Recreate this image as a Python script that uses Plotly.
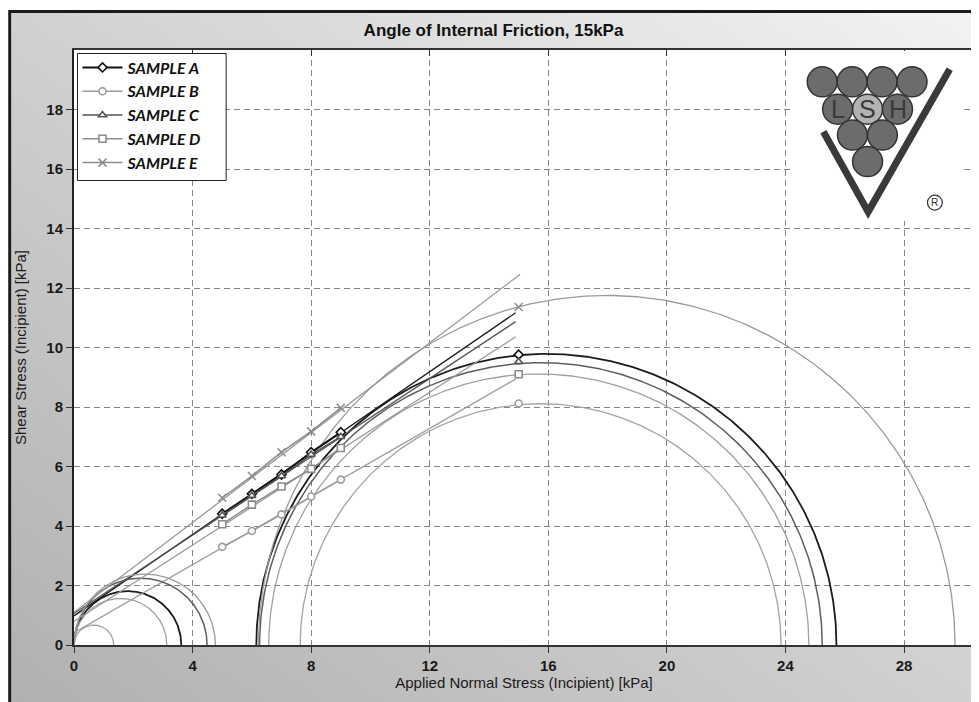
import base64
import numpy as np
import plotly.graph_objects as go

# ---------------- data ----------------
samples = ["SAMPLE A", "SAMPLE B", "SAMPLE C", "SAMPLE D", "SAMPLE E"]
normal_stress = [5, 6, 7, 8, 9]
shear_A = [4.41, 5.08, 5.73, 6.48, 7.15]
shear_B = [3.30, 3.83, 4.39, 4.99, 5.56]
shear_C = [4.36, 5.02, 5.68, 6.40, 7.00]
shear_D = [4.06, 4.72, 5.33, 5.92, 6.62]
shear_E = [4.95, 5.68, 6.48, 7.18, 7.97]
shear_series = [shear_A, shear_B, shear_C, shear_D, shear_E]

preshear_normal = 15
preshear_shear = [9.76, 8.12, 9.52, 9.10, 11.36]

# yield loci (straight lines)
locus_intercept = [0.98, 0.41, 1.06, 0.79, 1.10]
locus_end_x = [14.9, 14.9, 14.9, 14.9, 15.05]
locus_end_y = [11.17, 8.94, 10.87, 10.36, 12.46]

# Mohr circles: major (consolidation) circle ends on the normal-stress axis
major_left = [6.15, 7.63, 6.26, 6.57, 6.22]
major_right = [25.72, 23.85, 25.24, 24.79, 29.72]
# unconfined yield circle diameters (circle passes through origin)
minor_diameter = [3.62, 1.34, 4.49, 3.13, 4.77]

x_ticks = [0, 4, 8, 12, 16, 20, 24, 28]
y_ticks = [0, 2, 4, 6, 8, 10, 12, 14, 16, 18]

# ---------------- styles ----------------
series_color = ["#111111", "#9c9c9c", "#555555", "#8c8c8c", "#8c8c8c"]
series_symbol = ["diamond", "circle", "triangle-up", "square", "x-thin"]
series_width = [2.0, 1.5, 1.6, 1.5, 1.5]
locus_color = ["#1c1c1c", "#9a9a9a", "#555555", "#9a9a9a", "#9a9a9a"]
circle_color = ["#1c1c1c", "#a4a4a4", "#5e5e5e", "#a0a0a0", "#9a9a9a"]
circle_width = [1.8, 1.3, 1.5, 1.3, 1.3]

# page is offset by the 8px body margin of the html page
W, H = 971, 694
ML, MR, MT, MB = 66, 3, 42, 57
PW, PH = W - ML - MR, H - MT - MB
XMAX = 30.36
YMAX = 20

fig = go.Figure()
theta = np.linspace(0, np.pi, 361)

for i in range(len(samples)):
    c = (major_left[i] + major_right[i]) / 2
    r = (major_right[i] - major_left[i]) / 2
    fig.add_trace(go.Scatter(x=c + r * np.cos(theta), y=r * np.sin(theta), mode="lines",
                             line=dict(color=circle_color[i], width=circle_width[i]),
                             showlegend=False, hoverinfo="skip"))
    r2 = minor_diameter[i] / 2
    fig.add_trace(go.Scatter(x=r2 + r2 * np.cos(theta), y=r2 * np.sin(theta), mode="lines",
                             line=dict(color=circle_color[i], width=circle_width[i]),
                             showlegend=False, hoverinfo="skip"))
    fig.add_trace(go.Scatter(x=[0, locus_end_x[i]], y=[locus_intercept[i], locus_end_y[i]],
                             mode="lines", line=dict(color=locus_color[i], width=1.3),
                             showlegend=False, hoverinfo="skip"))

for i, name in enumerate(samples):
    sym = series_symbol[i]
    if sym == "x-thin":
        marker = dict(symbol=sym, size=8, color=series_color[i],
                      line=dict(color=series_color[i], width=1.5))
    else:
        marker = dict(symbol=sym, size=7, color="white",
                      line=dict(color=series_color[i], width=1.6))
    fig.add_trace(go.Scatter(x=normal_stress, y=shear_series[i], mode="lines+markers",
                             name=name, legendgroup=name,
                             line=dict(color=series_color[i], width=series_width[i]),
                             marker=marker))
    fig.add_trace(go.Scatter(x=[preshear_normal], y=[preshear_shear[i]], mode="markers",
                             legendgroup=name, showlegend=False, marker=marker))

# empty trace so the top (mirrored, inward-tick) axis gets drawn
fig.add_trace(go.Scatter(x=[], y=[], xaxis="x2", yaxis="y", showlegend=False, hoverinfo="skip"))

# ---------------- background (gradient frame with a hole for the plot area) ----------------
fx0, fy0 = 0, 2
fw, fh = W - fx0 + 6, H - fy0 + 6
px0, py0 = ML - fx0, MT - fy0
svg = f'''<svg xmlns="http://www.w3.org/2000/svg" width="{fw}" height="{fh}" viewBox="0 0 {fw} {fh}">
<defs><linearGradient id="g" x1="0" y1="1" x2="1" y2="0">
<stop offset="0" stop-color="#b0b0b0"/><stop offset="0.55" stop-color="#d4d4d4"/><stop offset="1" stop-color="#f3f3f3"/>
</linearGradient></defs>
<path fill-rule="evenodd" fill="url(#g)" d="M0 0 H{fw} V{fh} H0 Z M{px0} {py0} H{px0+PW} V{py0+PH} H{px0} Z"/>
<rect x="1.5" y="1.5" width="{fw-3}" height="{fh-3}" fill="none" stroke="#1a1a1a" stroke-width="3"/>
</svg>'''
src = "data:image/svg+xml;base64," + base64.b64encode(svg.encode()).decode()


def paper_x(px):
    return (px - ML) / PW


def paper_y(py):
    return (H - MB - py) / PH


fig.add_layout_image(dict(source=src, xref="paper", yref="paper",
                          x=paper_x(fx0), y=paper_y(fy0),
                          sizex=fw / PW, sizey=fh / PH,
                          xanchor="left", yanchor="top", sizing="stretch", layer="below"))

shapes = []
# legend box
shapes.append(dict(type="rect", xref="paper", yref="paper",
                   x0=paper_x(69.5), x1=paper_x(218.5), y0=paper_y(172.5), y1=paper_y(45.5),
                   fillcolor="white", line=dict(color="#222222", width=1), layer="above"))

# ---------------- logo ----------------
shapes.append(dict(type="rect", xref="x", yref="y", x0=24.27, x1=29.95, y0=14.25, y1=19.97,
                   fillcolor="white", line=dict(width=0), layer="above"))
shapes.append(dict(type="path", xref="x", yref="y",
                   path="M 25.28 17.25 L 26.79 14.56 L 29.54 19.35",
                   line=dict(color="#3a3a3a", width=7), layer="above"))
rx, ry = 0.505, 0.505
centers = [(25.24, 18.93), (26.25, 18.93), (27.26, 18.93), (28.27, 18.93),
           (25.76, 18.01), (26.77, 18.01), (27.78, 18.01),
           (26.26, 17.14), (27.27, 17.14),
           (26.77, 16.25)]
for k, (cx, cy) in enumerate(centers):
    fill = "#b2b2b2" if k == 5 else "#6c6c6c"
    shapes.append(dict(type="circle", xref="x", yref="y", x0=cx - rx, x1=cx + rx,
                       y0=cy - ry, y1=cy + ry, fillcolor=fill,
                       line=dict(color="#333333", width=1.5), layer="above"))
# registered mark ring
shapes.append(dict(type="circle", xref="x", yref="y", x0=29.04 - 0.25, x1=29.04 + 0.25,
                   y0=14.87 - 0.25, y1=14.87 + 0.25, fillcolor="rgba(0,0,0,0)",
                   line=dict(color="#333333", width=1.2), layer="above"))

annotations = []
for txt, cx in [("L", 25.76), ("S", 26.77), ("H", 27.78)]:
    annotations.append(dict(x=cx, y=18.01, xref="x", yref="y", text=txt, showarrow=False,
                            font=dict(family="Liberation Sans", size=25, color="#3a3a3a")))
annotations.append(dict(x=29.04, y=14.87, xref="x", yref="y", text="R", showarrow=False,
                        font=dict(family="Liberation Sans", size=10, color="#333333")))

tick_font = dict(family="Liberation Sans, Arial", size=15, color="#1a1a1a", weight="bold")
title_font = dict(family="Liberation Sans, Arial", size=15, color="#1a1a1a")

fig.update_layout(
    width=W, height=H,
    margin=dict(l=ML, r=MR, t=MT, b=MB),
    paper_bgcolor="white", plot_bgcolor="white",
    title=dict(text="<b>Angle of Internal Friction, 15kPa</b>", x=0.5, xanchor="center",
               y=1 - 22 / H, yanchor="middle",
               font=dict(family="Liberation Sans Narrow, Liberation Sans, Arial", size=17, color="#111111")),
    xaxis=dict(range=[0, XMAX], tickvals=x_ticks, ticks="outside", ticklen=6, tickcolor="#333",
               showline=True, linecolor="#333333", linewidth=1.5, mirror=True,
               showgrid=True, gridcolor="#858585", gridwidth=1, griddash="6px,4px", zeroline=False,
               tickfont=tick_font,
               title=dict(text="Applied Normal Stress (Incipient) [kPa]", standoff=3, font=title_font)),
    xaxis2=dict(range=[0, XMAX], tickvals=x_ticks, overlaying="x", side="top", anchor="y",
                ticks="inside", ticklen=6, tickcolor="#333", showticklabels=False,
                showgrid=False, showline=False, zeroline=False),
    yaxis=dict(range=[0, YMAX], tickvals=y_ticks, ticks="outside", ticklen=6, tickcolor="#333",
               showline=True, linecolor="#222222", linewidth=2, mirror=True,
               showgrid=True, gridcolor="#858585", gridwidth=1, griddash="6px,4px", zeroline=False,
               tickfont=tick_font,
               title=dict(text="Shear Stress (Incipient) [kPa]", standoff=16, font=title_font)),
    legend=dict(x=paper_x(69.5), y=paper_y(42.5), xanchor="left", yanchor="top",
                bgcolor="rgba(0,0,0,0)", borderwidth=0,
                font=dict(family="Lato", size=16, color="#111111", weight="bold", style="italic"),
                tracegroupgap=0, itemwidth=40),
    shapes=shapes,
    annotations=annotations,
    showlegend=True,
)

fig.write_html("out.html")
